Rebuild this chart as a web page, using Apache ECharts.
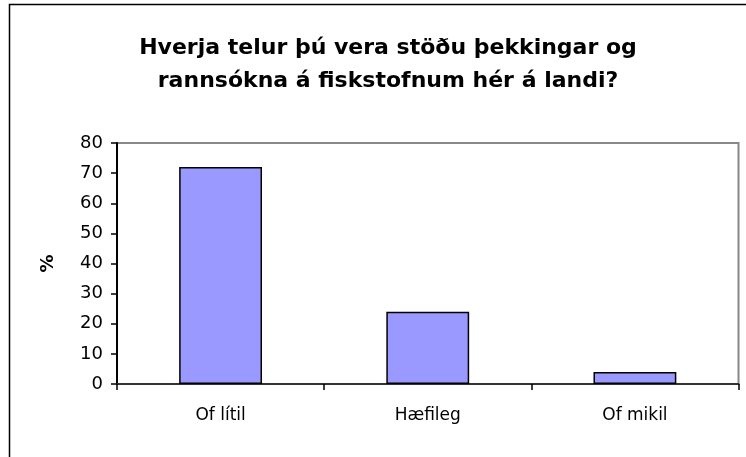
<!DOCTYPE html>
<html><head><meta charset="utf-8">
<script src="https://cdn.jsdelivr.net/npm/echarts@6/dist/echarts.min.js"></script>
<style>html,body{margin:0;padding:0;background:#fff}#c{width:746px;height:457px}</style>
</head><body><div id="c"></div>
<script>
const categories = ["Of lítil", "Hæfileg", "Of mikil"];
const values = [72, 24, 4];
const yTicks = [0, 10, 20, 30, 40, 50, 60, 70, 80];
const titleText = "Hverja telur þú vera stöðu þekkingar og\nrannsókna á fiskstofnum hér á landi?";
const yName = "%";
const FONT = '"DejaVu Sans", sans-serif';

const chart = echarts.init(document.getElementById('c'));
chart.setOption({
  animation: false,
  backgroundColor: '#fff',
  title: {
    text: titleText, left: 383, top: 27, textAlign: 'center',
    textStyle: { fontFamily: FONT, fontWeight: 'bold', fontSize: 22, lineHeight: 33, color: '#000' }
  },
  graphic: [{
    type: 'rect', shape: { x: 9.5, y: 4.5, width: 800, height: 500 },
    style: { fill: 'none', stroke: '#000', lineWidth: 1.5 }, silent: true
  }],
  grid: { left: 117, top: 143, right: 7.5, bottom: 73, show: true, borderColor: '#888', borderWidth: 2, backgroundColor: '#fff' },
  xAxis: {
    type: 'category', data: categories, boundaryGap: true,
    axisLine: { lineStyle: { color: '#333', width: 2 } },
    axisTick: { show: true, length: 6, lineStyle: { color: '#000', width: 1.5 } },
    axisLabel: { fontFamily: FONT, fontSize: 17, color: '#000', margin: 23 }
  },
  yAxis: {
    type: 'value', min: yTicks[0], max: yTicks[yTicks.length - 1], interval: 10,
    name: yName, nameLocation: 'middle', nameGap: 60, nameRotate: 90,
    nameTextStyle: { fontFamily: FONT, fontSize: 18, fontWeight: 'bold', color: '#000' },
    axisLine: { show: true, lineStyle: { color: '#000', width: 2 } },
    axisTick: { show: true, length: 6, lineStyle: { color: '#000', width: 1.5 } },
    axisLabel: { fontFamily: FONT, fontSize: 18, color: '#000', margin: 14 },
    splitLine: { show: false }
  },
  series: [{
    type: 'bar', data: values, barCategoryGap: '60%',
    itemStyle: { color: '#9999FF', borderColor: '#000', borderWidth: 1.5 }
  }]
});
</script></body></html>
